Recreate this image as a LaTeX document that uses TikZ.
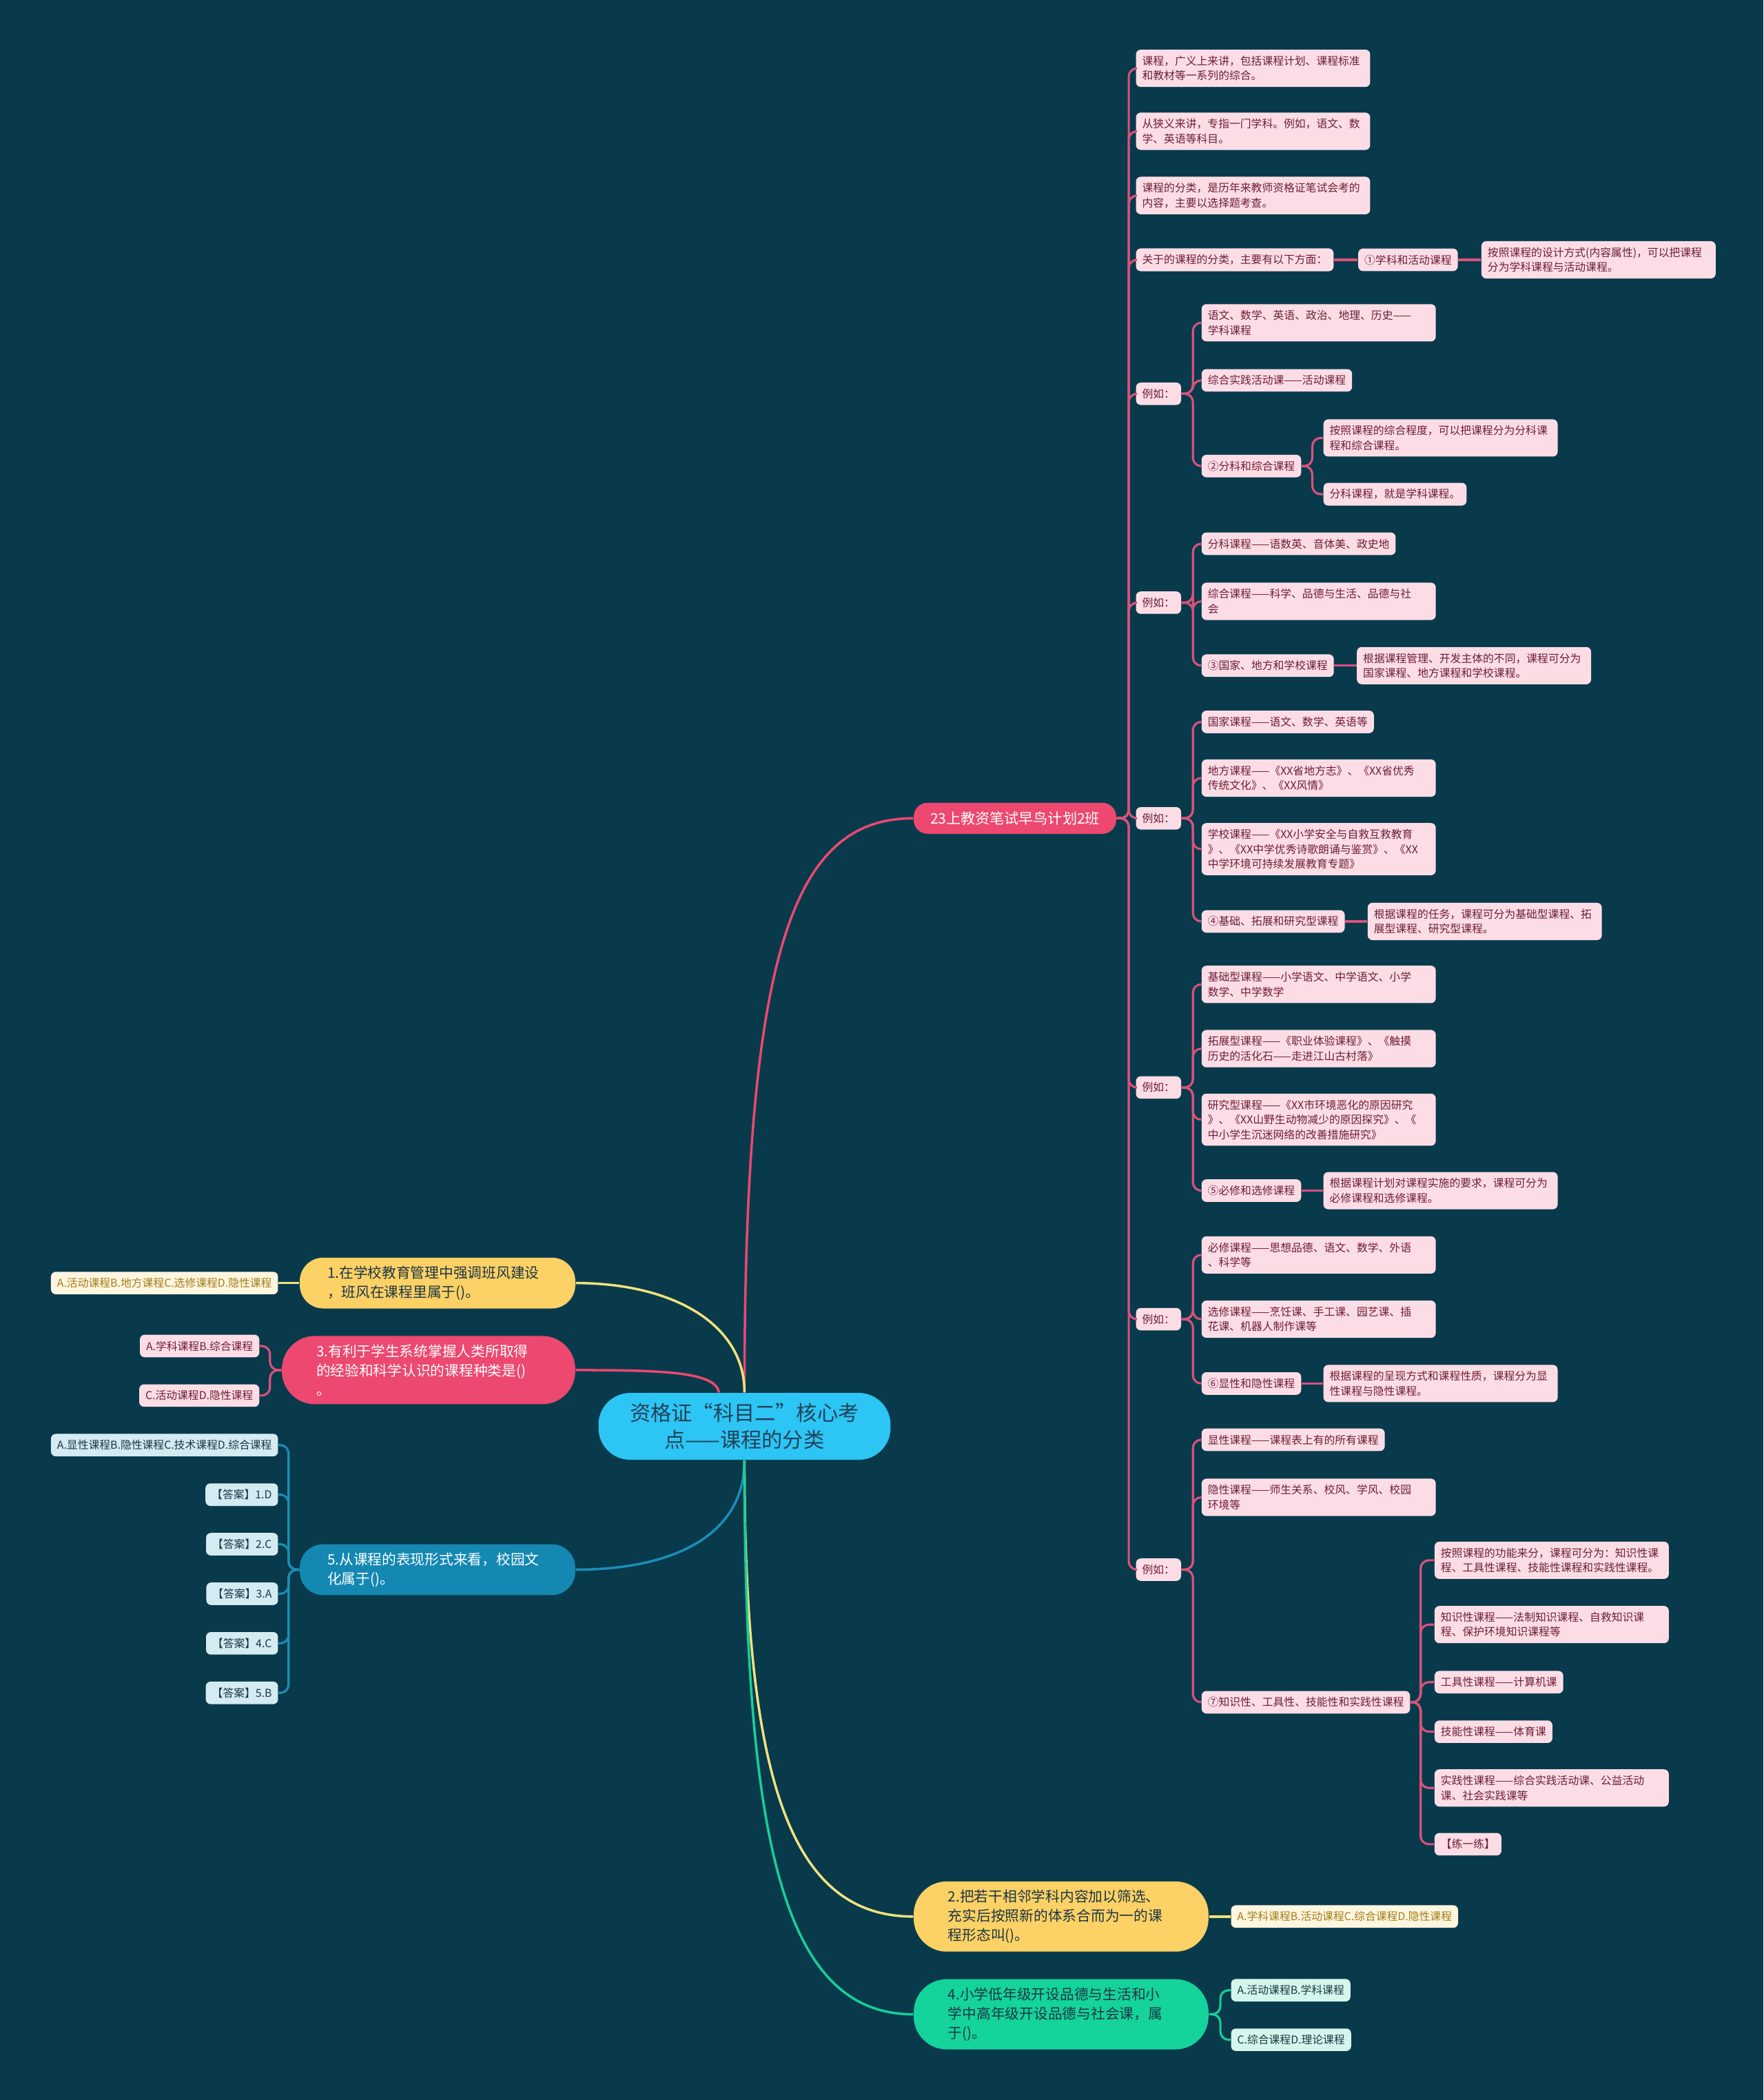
\documentclass[tikz,border=0pt]{standalone}
\usepackage{fontspec}
\setmainfont{Noto Sans CJK SC}
\usetikzlibrary{positioning}

\definecolor{bg}{HTML}{083A4C}
\definecolor{leafpink}{HTML}{FDDDE5}
\definecolor{leaftext}{HTML}{6B1E35}
\definecolor{pinkline}{HTML}{D9527A}
\definecolor{redbox}{HTML}{EC4870}
\definecolor{rootblue}{HTML}{2DC5F4}
\definecolor{roottext}{HTML}{214259}
\definecolor{qyellow}{HTML}{FCD165}
\definecolor{yline}{HTML}{F2E27C}
\definecolor{cream}{HTML}{FFF6DF}
\definecolor{goldtext}{HTML}{A27D1C}
\definecolor{qblue}{HTML}{1488B2}
\definecolor{bline}{HTML}{1C8DB6}
\definecolor{paleblue}{HTML}{D4EBF2}
\definecolor{qgreen}{HTML}{14D39B}
\definecolor{gline}{HTML}{19CE97}
\definecolor{palegreen}{HTML}{D4F6EC}
\definecolor{darktext}{HTML}{1D3545}

\begin{document}
\begin{tikzpicture}[x=0.01944cm, y=-0.01944cm,
  leaf/.style={fill=leafpink, text=leaftext, rounded corners=0.07cm,
               inner xsep=0.09cm, inner ysep=0.09cm,
               font=\fontsize{4.5}{6.1}\selectfont, align=left, anchor=west},
  wide/.style={leaf, text width=3.22cm},
  opt/.style={leaf, anchor=east},
  qbox/.style={rounded corners=0.34cm, inner xsep=0.4cm, inner ysep=0.12cm,
               text width=3.2cm, align=left, font=\fontsize{5.9}{8}\selectfont},
  rootbox/.style={fill=rootblue, text=roottext, rounded corners=0.46cm,
                  minimum width=4.24cm, minimum height=0.97cm, align=center,
                  font=\fontsize{8.6}{11}\selectfont},
  headbox/.style={fill=redbox, text=white, rounded corners=0.2cm,
                  minimum width=2.94cm, minimum height=0.45cm,
                  font=\fontsize{6}{7}\selectfont},
  pk/.style={draw=pinkline, line width=0.9pt, rounded corners=0.12cm},
  main/.style={line width=1pt}
]
\fill[bg] (0,0) rectangle (1317,1568);
\useasboundingbox (0,0) rectangle (1317,1568);

% centre and the big branch
\node[rootbox] (root) at (556,1065) {资格证“科目二”核心考\\点——课程的分类};
\node[headbox, anchor=west] (b1) at (682,611) {23上教资笔试早鸟计划2班};

\node[wide] (c1) at (848,51) {课程，广义上来讲，包括课程计划、课程标准\\和教材等一系列的综合。};
\node[wide] (c2) at (848,98) {从狭义来讲，专指一门学科。例如，语文、数\\学、英语等科目。};
\node[wide] (c3) at (848,146) {课程的分类，是历年来教师资格证笔试会考的\\内容，主要以选择题考查。};
\node[leaf] (c4) at (848,194) {关于的课程的分类，主要有以下方面：};
\node[leaf] (c4a) at (1014,194) {①学科和活动课程};
\node[wide] (c4b) at (1106,194) {按照课程的设计方式(内容属性)，可以把课程\\分为学科课程与活动课程。};

% 例如 1
\node[leaf] (e1) at (848,294) {例如：};
\node[wide] (e1a) at (897,241) {语文、数学、英语、政治、地理、历史——\\学科课程};
\node[leaf] (e1b) at (897,284) {综合实践活动课——活动课程};
\node[leaf] (e1c) at (897,348) {②分科和综合课程};
\node[wide] (e1c1) at (988,327) {按照课程的综合程度，可以把课程分为分科课\\程和综合课程。};
\node[leaf] (e1c2) at (988,369) {分科课程，就是学科课程。};

% 例如 2
\node[leaf] (e2) at (848,450) {例如：};
\node[leaf] (e2a) at (897,406) {分科课程——语数英、音体美、政史地};
\node[wide] (e2b) at (897,449) {综合课程——科学、品德与生活、品德与社\\会};
\node[leaf] (e2c) at (897,497) {③国家、地方和学校课程};
\node[wide] (e2c1) at (1013,497) {根据课程管理、开发主体的不同，课程可分为\\国家课程、地方课程和学校课程。};

% 例如 3
\node[leaf] (e3) at (848,611) {例如：};
\node[leaf] (e3a) at (897,539) {国家课程——语文、数学、英语等};
\node[wide] (e3b) at (897,581) {地方课程——《XX省地方志》、《XX省优秀\\传统文化》、《XX风情》};
\node[wide] (e3c) at (897,634) {学校课程——《XX小学安全与自救互救教育\\》、《XX中学优秀诗歌朗诵与鉴赏》、《XX\\中学环境可持续发展教育专题》};
\node[leaf] (e3d) at (897,688) {④基础、拓展和研究型课程};
\node[wide] (e3d1) at (1021,688) {根据课程的任务，课程可分为基础型课程、拓\\展型课程、研究型课程。};

% 例如 4
\node[leaf] (e4) at (848,812) {例如：};
\node[wide] (e4a) at (897,735) {基础型课程——小学语文、中学语文、小学\\数学、中学数学};
\node[wide] (e4b) at (897,783) {拓展型课程——《职业体验课程》、《触摸\\历史的活化石——走进江山古村落》};
\node[wide] (e4c) at (897,836) {研究型课程——《XX市环境恶化的原因研究\\》、《XX山野生动物减少的原因探究》、《\\中小学生沉迷网络的改善措施研究》};
\node[leaf] (e4d) at (897,889) {⑤必修和选修课程};
\node[wide] (e4d1) at (988,889) {根据课程计划对课程实施的要求，课程可分为\\必修课程和选修课程。};

% 例如 5
\node[leaf] (e5) at (848,985) {例如：};
\node[wide] (e5a) at (897,937) {必修课程——思想品德、语文、数学、外语\\、科学等};
\node[wide] (e5b) at (897,985) {选修课程——烹饪课、手工课、园艺课、插\\花课、机器人制作课等};
\node[leaf] (e5c) at (897,1033) {⑥显性和隐性课程};
\node[wide] (e5c1) at (988,1033) {根据课程的呈现方式和课程性质，课程分为显\\性课程与隐性课程。};

% 例如 6
\node[leaf] (e6) at (848,1172) {例如：};
\node[leaf] (e6a) at (897,1075) {显性课程——课程表上有的所有课程};
\node[wide] (e6b) at (897,1118) {隐性课程——师生关系、校风、学风、校园\\环境等};
\node[leaf] (e6c) at (897,1271) {⑦知识性、工具性、技能性和实践性课程};
\node[wide] (f1) at (1071,1165) {按照课程的功能来分，课程可分为：知识性课\\程、工具性课程、技能性课程和实践性课程。};
\node[wide] (f2) at (1071,1213) {知识性课程——法制知识课程、自救知识课\\程、保护环境知识课程等};
\node[leaf] (f3) at (1071,1256) {工具性课程——计算机课};
\node[leaf] (f4) at (1071,1293) {技能性课程——体育课};
\node[wide] (f5) at (1071,1335) {实践性课程——综合实践活动课、公益活动\\课、社会实践课等};
\node[leaf] (f6) at (1071,1377) {【练一练】};

% questions
\node[qbox, fill=qyellow, text=darktext, anchor=east] (q1) at (430,958) {1.在学校教育管理中强调班风建设\\，班风在课程里属于()。};
\node[opt, fill=cream, text=goldtext] (q1a) at (208,958) {A.活动课程B.地方课程C.选修课程D.隐性课程};

\node[qbox, fill=redbox, text=white, anchor=east, inner xsep=0.5cm, text width=3.26cm, rounded corners=0.48cm] (q3) at (430,1023) {3.有利于学生系统掌握人类所取得\\的经验和科学认识的课程种类是()\\。};
\node[opt] (q3a) at (194,1005) {A.学科课程B.综合课程};
\node[opt] (q3b) at (194,1042) {C.活动课程D.隐性课程};

\node[qbox, fill=qblue, text=white, anchor=east] (q5) at (430,1172) {5.从课程的表现形式来看，校园文\\化属于()。};
\node[opt, fill=paleblue, text=darktext] (q5a) at (208,1079) {A.显性课程B.隐性课程C.技术课程D.综合课程};
\node[opt, fill=paleblue, text=darktext] (q5b) at (208,1116) {【答案】1.D};
\node[opt, fill=paleblue, text=darktext] (q5c) at (208,1153) {【答案】2.C};
\node[opt, fill=paleblue, text=darktext] (q5d) at (208,1190) {【答案】3.A};
\node[opt, fill=paleblue, text=darktext] (q5e) at (208,1227) {【答案】4.C};
\node[opt, fill=paleblue, text=darktext] (q5f) at (208,1264) {【答案】5.B};

\node[qbox, fill=qyellow, text=darktext, anchor=west, inner xsep=0.5cm, text width=3.28cm, rounded corners=0.48cm] (q2) at (682,1431) {2.把若干相邻学科内容加以筛选、\\充实后按照新的体系合而为一的课\\程形态叫()。};
\node[leaf, fill=cream, text=goldtext] (q2a) at (919,1431) {A.学科课程B.活动课程C.综合课程D.隐性课程};

\node[qbox, fill=qgreen, text=darktext, anchor=west, inner xsep=0.5cm, text width=3.28cm, rounded corners=0.48cm] (q4) at (682,1504) {4.小学低年级开设品德与生活和小\\学中高年级开设品德与社会课，属\\于()。};
\node[leaf, fill=palegreen, text=darktext] (q4a) at (919,1486) {A.活动课程B.学科课程};
\node[leaf, fill=palegreen, text=darktext] (q4b) at (919,1523) {C.综合课程D.理论课程};

% connectors from the centre
\draw[main, draw=redbox] (root.north) to[out=90, in=180, out distance=6.4cm, in distance=1.75cm] (b1.west);
\draw[main, draw=yline] (root.north) to[out=90, in=0, out distance=1cm, in distance=1.4cm] (q1.east);
\draw[main, draw=redbox] ([xshift=-0.37cm]root.north) to[out=100, in=0, out distance=0.3cm, in distance=1.3cm] (q3.east);
\draw[main, draw=bline] (root.south) to[out=-90, in=0, out distance=1.1cm, in distance=1.4cm] (q5.east);
\draw[main, draw=yline] (root.south) to[out=-90, in=180, out distance=4.6cm, in distance=1.8cm] (q2.west);
\draw[main, draw=gline] (root.south) to[out=-90, in=180, out distance=5.5cm, in distance=1.9cm] (q4.west);

% course branch
\foreach \c in {c1,c2,c3,c4,e1,e2,e3,e4,e5,e6}
  \draw[pk] (b1.east) -- ++(9,0) |- (\c.west);
\draw[pk] (c4) -- (c4a);
\draw[pk] (c4a) -- (c4b);
\foreach \c in {e1a,e1b,e1c}
  \draw[pk] (e1.east) -- ++(8.5,0) |- (\c.west);
\foreach \c in {e1c1,e1c2}
  \draw[pk] (e1c.east) -- ++(8,0) |- (\c.west);
\foreach \c in {e2a,e2b,e2c}
  \draw[pk] (e2.east) -- ++(8.5,0) |- (\c.west);
\draw[pk] (e2c) -- (e2c1);
\foreach \c in {e3a,e3b,e3c,e3d}
  \draw[pk] (e3.east) -- ++(8.5,0) |- (\c.west);
\draw[pk] (e3d) -- (e3d1);
\foreach \c in {e4a,e4b,e4c,e4d}
  \draw[pk] (e4.east) -- ++(8.5,0) |- (\c.west);
\draw[pk] (e4d) -- (e4d1);
\foreach \c in {e5a,e5b,e5c}
  \draw[pk] (e5.east) -- ++(8.5,0) |- (\c.west);
\draw[pk] (e5c) -- (e5c1);
\foreach \c in {e6a,e6b,e6c}
  \draw[pk] (e6.east) -- ++(8.5,0) |- (\c.west);
\foreach \c in {f1,f2,f3,f4,f5,f6}
  \draw[pk] (e6c.east) -- ++(7.5,0) |- (\c.west);

% question answers
\draw[main, draw=yline] (q1) -- (q1a);
\draw[main, draw=yline] (q2) -- (q2a);
\foreach \c in {q3a,q3b}
  \draw[pk] (q3.west) -- ++(-8.5,0) |- (\c.east);
\foreach \c in {q5a,q5b,q5c,q5d,q5e,q5f}
  \draw[pk, draw=bline] (q5.west) -- ++(-8,0) |- (\c.east);
\foreach \c in {q4a,q4b}
  \draw[pk, draw=gline] (q4.east) -- ++(8.5,0) |- (\c.west);
\end{tikzpicture}
\end{document}
